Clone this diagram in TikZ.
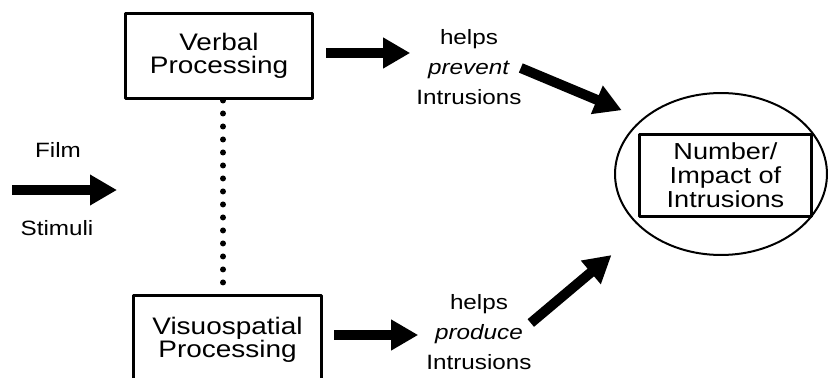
\documentclass[tikz,border=0pt]{standalone}
\usepackage{fontspec}
\setmainfont{Liberation Sans}[FakeStretch=1.17]
\usetikzlibrary{arrows.meta,shapes.geometric,calc}
\newcommand\boxfont{\fontsize{13.6}{12.8}\selectfont}
\newcommand\countfont{\fontsize{13.2}{13.6}\selectfont}
\newcommand\labfont{\fontsize{11.8}{17}\selectfont}

\begin{document}
\begin{tikzpicture}[line cap=round,line join=round,>={Triangle[length=0.54cm,width=0.58cm]},x=0.02cm,y=-0.02cm,
  procbox/.style={draw,line width=0.06cm,minimum width=3.76cm,minimum height=1.72cm,align=center,font=\boxfont},
  textlab/.style={align=center,font=\labfont},
  fatarrow/.style={->,line width=0.2cm,line cap=butt},
  dotline/.style={line width=0.12cm,line cap=round,dash pattern=on 0pt off 0.26cm}]
\clip (0,0) rectangle (828,378);
% boxes
\node[procbox] (verbal) at (219,56) {Verbal\\Processing};
\node[procbox,minimum width=3.78cm,minimum height=1.8cm] (visuo) at (227.5,340) {Visuospatial\\Processing};
\node[draw,ellipse,line width=0.04cm,inner sep=0pt,minimum width=4.24cm,minimum height=3.24cm] (impact) at (721,174) {};
\node[procbox,minimum width=3.46cm,minimum height=1.66cm,font=\countfont] (count) at (725.5,175.5) {Number/\\Impact of\\Intrusions};
% labels
\node[textlab] (film) at (58,150) {Film};
\node[textlab] (stimuli) at (57,228) {Stimuli};
\node[textlab] (prevlab) at (469,67) {helps\\\textit{prevent}\\Intrusions};
\node[textlab] (prodlab) at (479,332) {helps\\\textit{produce}\\Intrusions};
\coordinate (filmtail) at (12,190);
\coordinate (filmhead) at (117,190);
% arrows
\draw[fatarrow] (filmtail) -- (filmhead);
\draw[fatarrow] ($(verbal.east)+(12,-3)$) -- ($(prevlab.west |- verbal.east)+(0,-3)$);
\draw[fatarrow] ($(visuo.east)+(11,-5)$) -- ($(prodlab.west |- visuo.east)+(-2,-5)$);
\draw[fatarrow,shorten >=0.44cm] ($(prevlab.east)+(-7,1)$) -- (impact.145);
\draw[fatarrow,shorten >=0.8cm] ($(prodlab.east)+(-7,-9)$) -- (impact.215);
\draw[dotline] ($(verbal.south)+(4,0)$) -- ($(verbal.south |- visuo.north)+(4,0)$);
\end{tikzpicture}
\end{document}
